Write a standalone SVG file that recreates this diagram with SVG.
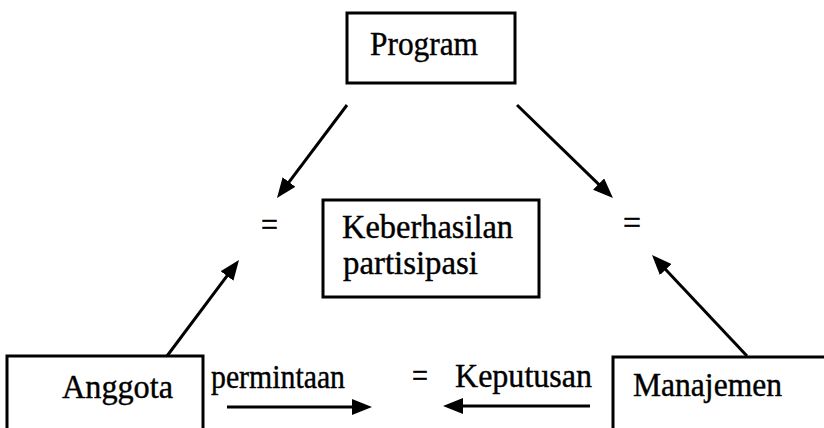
<svg xmlns="http://www.w3.org/2000/svg" width="824" height="428" viewBox="0 0 824 428">
<style>
.box{fill:#fff;stroke:#000;stroke-width:3}
.t{font-family:"Liberation Serif","Times New Roman",serif;font-size:33px;fill:#000;stroke:#000;stroke-width:0.4}
.c{stroke:#000;stroke-width:3;fill:none;marker-end:url(#ah)}
</style>
<defs>
<marker id="ah" markerUnits="userSpaceOnUse" markerWidth="20" markerHeight="16" viewBox="0 0 20 16" refX="6" refY="8" orient="auto">
<path d="M0,0 L20,8 L0,16 z" fill="#000"/>
</marker>
</defs>
<rect width="824" height="428" fill="#fff"/>
<g id="connectors">
<line class="c" x1="347" y1="105" x2="285.4" y2="186.8"/>
<line class="c" x1="517" y1="105" x2="602.9" y2="188.3"/>
<line class="c" x1="167" y1="356" x2="230.6" y2="271.2"/>
<line class="c" x1="747" y1="356" x2="661.6" y2="265.2"/>
<line class="c" x1="227" y1="407" x2="358" y2="407"/>
<line class="c" x1="590" y1="406" x2="457" y2="406"/>
<text class="t" x="261" y="236" textLength="17" lengthAdjust="spacingAndGlyphs">=</text>
<text class="t" x="623" y="234" textLength="18" lengthAdjust="spacingAndGlyphs">=</text>
<text class="t" x="412" y="387" textLength="16" lengthAdjust="spacingAndGlyphs">=</text>
<text class="t" x="211" y="388" textLength="134" lengthAdjust="spacingAndGlyphs">permintaan</text>
<text class="t" x="455" y="387" textLength="137" lengthAdjust="spacingAndGlyphs">Keputusan</text>
</g>
<g id="program">
<rect class="box" x="347" y="13" width="168" height="70"/>
<text class="t" x="370" y="55" textLength="108" lengthAdjust="spacingAndGlyphs">Program</text>
</g>
<g id="keberhasilan">
<rect class="box" x="323" y="200" width="216" height="97"/>
<text class="t" x="342" y="238" textLength="171" lengthAdjust="spacingAndGlyphs">Keberhasilan</text>
<text class="t" x="343" y="274" textLength="135" lengthAdjust="spacingAndGlyphs">partisipasi</text>
</g>
<g id="anggota">
<rect class="box" x="7" y="356" width="196" height="90"/>
<text class="t" x="62" y="398" textLength="111" lengthAdjust="spacingAndGlyphs">Anggota</text>
</g>
<g id="manajemen">
<rect class="box" x="613" y="357" width="230" height="90"/>
<text class="t" x="633" y="396" textLength="149" lengthAdjust="spacingAndGlyphs">Manajemen</text>
</g>
</svg>
